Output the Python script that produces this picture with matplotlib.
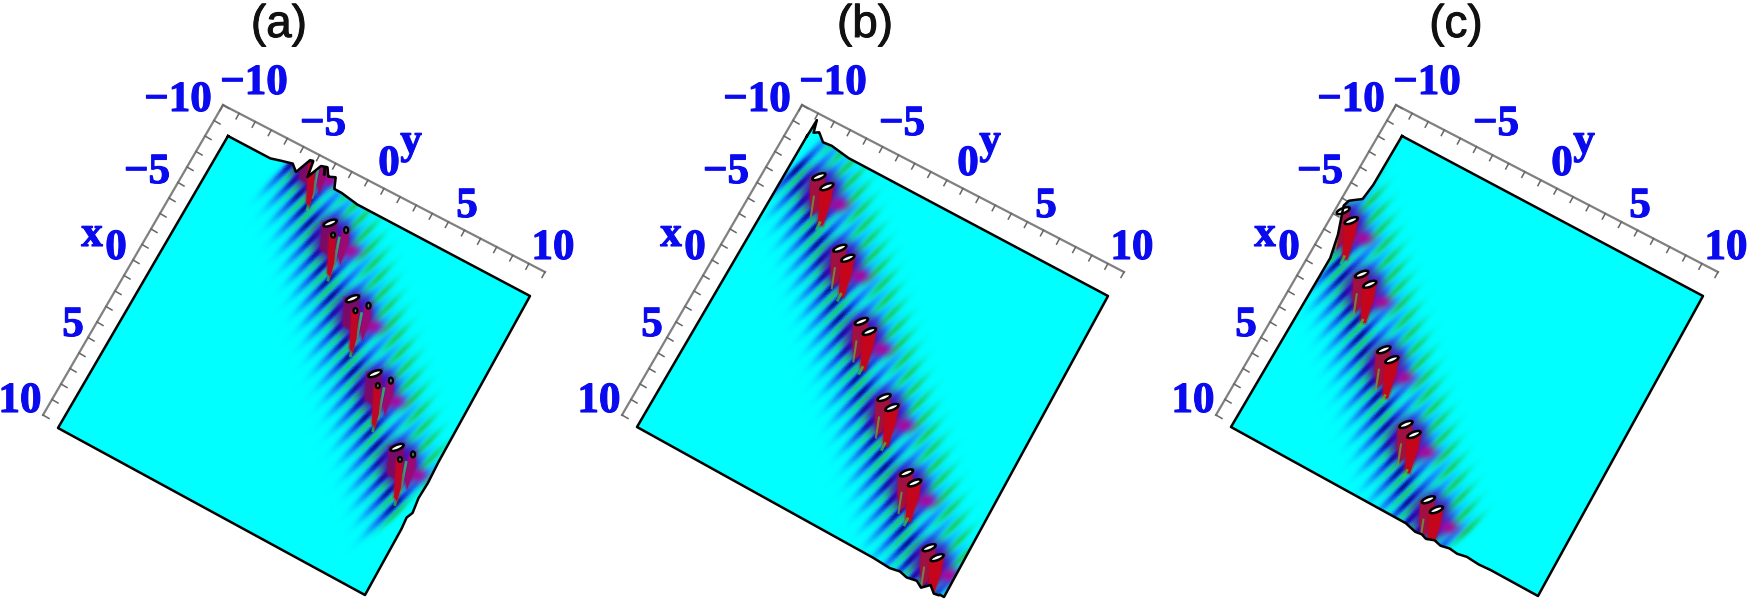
import numpy as np
import matplotlib
matplotlib.use('Agg')
import matplotlib.pyplot as plt
from matplotlib.patches import Polygon, Ellipse
import matplotlib.patheffects as pe

# panels
titles = ['(a)', '(b)', '(c)']
title_cx = [279, 865, 1456]
panel_dx = [0, 579, 1173]
band_d = [6.0, 0.0, -6.3]      # y - x of the soliton band

# surface corners in px, panel a: (x,y) = (-10,-10), (-10,10), (10,10), (10,-10)
corner_top = [[228, 136], [807, 136], [1402, 136]]
corner_right = [[530, 296], [1108, 296], [1703, 296]]
corner_bottom = [[365, 595], [944, 597], [1538, 596]]
corner_left = [[58, 428], [637, 427], [1231, 427]]

# peak clusters along the band, (x+y)/2
peaks_a = [-8.4, -5.28, -1.97, 1.3, 4.5]
peaks_b = [-8.2, -5.05, -1.85, 1.45, 4.7, 7.9]
peaks_c = [-7.6, -4.8, -1.5, 1.75, 5.0]

# ripples along the band
ripples_a = [-8.6, -7.95, -7.3, -6.65, -6.0, -5.35, -4.7, -4.05, -3.4, -2.75, -2.1, -1.45, -0.8, -0.15,
             0.5, 1.15, 1.8, 2.45, 3.1, 3.75, 4.4, 5.05, 5.7, 6.35]
ripples_b = [-9.2, -8.55, -7.9, -7.25, -6.6, -5.95, -5.3, -4.65, -4.0, -3.35, -2.7, -2.05, -1.4, -0.75,
             -0.1, 0.55, 1.2, 1.85, 2.5, 3.15, 3.8, 4.45, 5.1, 5.75, 6.4, 7.05, 7.7, 8.35, 9.0, 9.65]
ripples_c = [-8.6, -7.95, -7.3, -6.65, -6.0, -5.35, -4.7, -4.05, -3.4, -2.75, -2.1, -1.45, -0.8, -0.15,
             0.5, 1.15, 1.8, 2.45, 3.1, 3.75, 4.4, 5.05, 5.7, 6.35, 7.0]

# outline bumps, px outwards from the flat edge
a_top_pos = [-7.2, -6.8, -5.9, -5.5, -5.1, -4.9, -4.77, -4.37, -4.0, -3.7, -3.3, -3.05, -2.6, -1.46]
a_top_h = [0, 2, 6, 0, 17, 18, 1, 17, 19, 11, 14, 3, 3, 0]
a_right_pos = [1.0, 2.4, 3.5, 4.45, 4.85, 5.5]
a_right_h = [0, 1, 0, 2, -1, 0]
b_top_pos = [-9.99, -9.93, -9.75, -9.47, -9.0, -8.47, -7.27]
b_top_h = [0, 19, 6, 9, 2, 3, 0]
b_bottom_pos = [5.5, 6.5, 7.1, 7.6, 8.2, 8.6, 9.0, 9.4, 9.7]
b_bottom_h = [0, 1, -1, 1, -1, 3, -4, 2, 1]
c_left_pos = [-6.6, -5.6, -5.1, -4.7, -4.0, -3.0, -1.6]
c_left_h = [0, 2, 13, 15, 11, 5, 0]
c_bottom_pos = [1.4, 2.1, 2.5, 2.83, 3.3, 3.75, 4.27, 4.8, 5.37, 6.2, 7.0]
c_bottom_h = [0, 3, 2, 4, 1, 3, 1, 2, 0, 1, 0]

# axis lines and labels, panel a px
axis_corner = [223, 105]
axis_x_end = [43, 415]
axis_y_end = [545, 272]
ticks = list(range(-10, 11))
x_labels = ['\u221210', '\u22125', '0', '5', '10']
x_label_px = [[178, 101], [147, 173], [116, 249], [73, 326], [20, 402]]
y_labels = ['\u221210', '\u22125', '0', '5', '10']
y_label_px = [[254, 84], [323, 125], [389, 165], [467, 207], [553, 249]]

BLUE = '#0a0aee'
CYAN = np.array([0.0, 1.0, 1.0])
NAVY = np.array([0.02, 0.05, 0.5])
ROYAL = np.array([0.05, 0.25, 0.9])
SKY = np.array([0.1, 0.6, 1.0])
GREEN = np.array([0.1, 0.78, 0.35])
PURPLE = np.array([0.3, 0.0, 0.7])
MAGENTA = np.array([0.7, 0.0, 0.6])

fig = plt.figure(figsize=(17.5, 6.01), dpi=100)
ax = fig.add_axes([0, 0, 1, 1])
ax.set_xlim(0, 1750)
ax.set_ylim(601, 0)
ax.axis('off')


def to_px(x, y, i):
    s = (np.asarray(x, float) + 10) / 20
    t = (np.asarray(y, float) + 10) / 20
    p0, p1, p2, p3 = [np.array(c[i], float) for c in (corner_top, corner_right, corner_bottom, corner_left)]
    px = (1-s)*(1-t)*p0[0] + (1-s)*t*p1[0] + s*t*p2[0] + s*(1-t)*p3[0]
    py = (1-s)*(1-t)*p0[1] + (1-s)*t*p1[1] + s*t*p2[1] + s*(1-t)*p3[1]
    return px, py


def blend(img, col, w):
    w = np.clip(w, 0, 1)[..., None]
    return img * (1 - w) + col * w


def surface(i, ripples, peaks):
    n = 620
    g = np.linspace(-11.5, 11.5, n + 1)
    xe, ye = np.meshgrid(g, g, indexing='ij')
    X, Y = to_px(xe, ye, i)
    c = 0.5 * (g[:-1] + g[1:])
    xc, yc = np.meshgrid(c, c, indexing='ij')
    PX, PY = to_px(xc, yc, i)
    img = np.ones((n, n, 3)) * CYAN
    d = band_d[i]
    ex, ey = 0.707, -0.707
    nx, ny = 0.707, 0.707
    coords = []
    for u in ripples:
        cx, cy = to_px(u - d/2, u + d/2, i)
        a = (PX - cx)*ex + (PY - cy)*ey
        b = (PX - cx)*nx + (PY - cy)*ny
        coords.append((a, b))
    # layers go over all ripples so a wide one can't wipe a neighbour
    for a, b in coords:
        img = blend(img, SKY, 0.85*np.exp(-(b/4.6)**2)*np.exp(-((a+10)/48)**4))
    for a, b in coords:
        b2 = b - 6.7
        img = blend(img, GREEN, 0.85*np.exp(-(b2/3.0)**2)*np.exp(-((a+26)/20)**2))
        img = blend(img, GREEN, 0.85*np.exp(-(b2/3.3)**2)*np.exp(-((a-30)/19)**2))
    for a, b in coords:
        img = blend(img, ROYAL, 0.95*np.exp(-(b/3.4)**2)*np.exp(-((a+22)/30)**2))
        img = blend(img, NAVY, 0.85*np.exp(-(b/2.4)**2)*np.exp(-((a+22)/13)**2))
    for u in peaks:
        cx, cy = to_px(u - d/2, u + d/2, i)
        r2 = ((PX - cx - 3)/21)**2 + ((PY - cy - 16)/25)**2
        img = blend(img, PURPLE, 0.9*np.exp(-r2**2))
        r2 = ((PX - cx - 20)/11)**2 + ((PY - cy - 28)/7)**2
        img = blend(img, MAGENTA, 0.9*np.exp(-r2))
    return X, Y, img


def outline(i, bumps):
    # four edges, each walked clockwise from the top corner
    pts = []
    edges = [('top', lambda p: (-10*np.ones_like(p), p), 1),
             ('right', lambda p: (p, 10*np.ones_like(p)), 1),
             ('bottom', lambda p: (10*np.ones_like(p), p), -1),
             ('left', lambda p: (p, -10*np.ones_like(p)), -1)]
    for name, f, sgn in edges:
        p = np.linspace(-10, 10, 800)
        if sgn < 0:
            p = p[::-1]
        ex, ey = f(p)
        px, py = to_px(ex, ey, i)
        dx, dy = np.gradient(px), np.gradient(py)
        ln = np.hypot(dx, dy)
        # outward normal for a clockwise walk on screen
        nx, ny = dy/ln, -dx/ln
        h = np.zeros_like(p)
        if name in bumps:
            h = np.interp(p, bumps[name][0], bumps[name][1], left=0, right=0)
        pts.append(np.column_stack([px + nx*h, py + ny*h]))
    return np.vstack(pts)


def column(px, py, poly, col, z):
    ax.add_patch(Polygon([(px + a, py + b) for a, b in poly], fc=col, ec=col, lw=2.5, alpha=0.3, zorder=z))
    ax.add_patch(Polygon([(px + a, py + b) for a, b in poly], fc=col, lw=0, zorder=z))


def cluster_a(px, py, z=5, top=True):
    big = [(-8, -1), (7, -4), (6, 14), (-3, 31), (-10, 26)]
    right = [(12, 8), (19, 5), (18, 20), (10, 42), (8, 32)]
    front = [(-1, 12), (6, 11), (4, 40), (0, 54), (-3, 50)]
    column(px, py, big, '#7a0a6a', z)
    column(px, py, right, '#9a0a70', z)
    ax.plot([px + 9, px + 3], [py + 15, py + 45], color='#30d060', lw=2, alpha=0.75, zorder=z)
    column(px, py, front, '#c00525', z + 0.1)
    ax.plot([px, px - 2], [py + 50, py + 57], color='#30d040', lw=2, alpha=0.7, zorder=z)
    if top:
        ax.add_patch(Ellipse((px, py), 14, 5, angle=-22, fc='white', ec='black', lw=1.8, zorder=z + 0.2))
        ax.add_patch(Ellipse((px + 3, py + 12), 4, 5, fc='#777777', ec='black', lw=1.6, zorder=z + 0.2))
        ax.add_patch(Ellipse((px + 16, py + 7), 4, 6, fc='#777777', ec='black', lw=1.6, zorder=z + 0.2))
    else:
        ax.plot([px + 3, px + 3], [py, py + 12], color='black', lw=2, zorder=z + 0.2)
        ax.plot([px + 16, px + 15], [py + 7, py + 22], color='black', lw=2, zorder=z + 0.2)


def cluster_b(px, py, z=5):
    back = [(-8, 1), (6, -3), (6, 14), (-2, 34), (-7, 38), (-9, 20)]
    front = [(1, 13), (15, 7), (12, 24), (4, 49), (-1, 48)]
    column(px, py, back, '#a01040', z)
    column(px, py, front, '#c4051c', z + 0.1)
    ax.plot([px - 5, px - 8], [py + 20, py + 40], color='#60b040', lw=1.5, alpha=0.7, zorder=z + 0.1)
    ax.plot([px + 1, px - 2], [py + 46, py + 52], color='#30d040', lw=2, alpha=0.7, zorder=z + 0.1)
    ax.add_patch(Ellipse((px, py), 14, 5, angle=-22, fc='white', ec='black', lw=1.8, zorder=z + 0.2))
    ax.add_patch(Ellipse((px + 8, py + 10), 14, 5, angle=-22, fc='white', ec='black', lw=1.8, zorder=z + 0.2))


peak_lists = [peaks_a, peaks_b, peaks_c]
ripple_lists = [ripples_a, ripples_b, ripples_c]
bump_lists = [
    {'top': (a_top_pos, a_top_h), 'right': (a_right_pos, a_right_h)},
    {'top': (b_top_pos, b_top_h), 'bottom': (b_bottom_pos, b_bottom_h)},
    {'left': (c_left_pos, c_left_h), 'bottom': (c_bottom_pos, c_bottom_h)},
]
heavy = [pe.withStroke(linewidth=0.8, foreground=BLUE)]

for i in range(3):
    dx = panel_dx[i]
    ax.text(title_cx[i], 25, titles[i], fontsize=33, family='Liberation Sans', ha='center', va='center',
            color='#111111', path_effects=[pe.withStroke(linewidth=0.7, foreground='#111111')])

    # the surface
    X, Y, img = surface(i, ripple_lists[i], peak_lists[i])
    m = ax.pcolormesh(X, Y, img, shading='flat', antialiased=False, linewidth=0, zorder=2)
    border = outline(i, bump_lists[i])
    clip = Polygon(border, closed=True, transform=ax.transData, fill=False, lw=0)
    ax.add_patch(clip)
    m.set_clip_path(clip)

    # peaks, cut at the surface outline
    d = band_d[i]
    n_patches, n_lines = len(ax.patches), len(ax.lines)
    for j, u in enumerate(peak_lists[i]):
        px, py = to_px(u - d/2, u + d/2, i)
        if i == 0:
            cluster_a(float(px), float(py), top=(j > 0))
        else:
            cluster_b(float(px), float(py))
    for art in list(ax.patches)[n_patches:] + list(ax.lines)[n_lines:]:
        if not isinstance(art, Ellipse):
            art.set_clip_path(clip)

    ax.plot(np.append(border[:, 0], border[0, 0]), np.append(border[:, 1], border[0, 1]),
            color='black', lw=1.8, zorder=8)

    # axes with ticks
    c0 = np.array(axis_corner, float) + [dx, 0]
    ex = np.array(axis_x_end, float) + [dx, 0]
    ey = np.array(axis_y_end, float) + [dx, 0]
    ax.plot([c0[0], ex[0]], [c0[1], ex[1]], color='#808080', lw=1.6, zorder=3)
    ax.plot([c0[0], ey[0]], [c0[1], ey[1]], color='#808080', lw=1.6, zorder=3)
    for t in ticks:
        f = (t + 10) / 20
        p = c0 + f*(ex - c0)
        ax.plot([p[0], p[0] + 6], [p[1], p[1] + 3.5], color='#666666', lw=1.1, zorder=3)
        p = c0 + f*(ey - c0)
        ax.plot([p[0], p[0] - 3], [p[1], p[1] + 5.5], color='#666666', lw=1.1, zorder=3)

    for lab, pos in zip(x_labels, x_label_px):
        ax.text(pos[0] + dx, pos[1], lab, fontsize=31, family='Liberation Serif', weight='bold',
                color=BLUE, ha='center', va='center', path_effects=heavy)
    for lab, pos in zip(y_labels, y_label_px):
        ax.text(pos[0] + dx, pos[1], lab, fontsize=31, family='Liberation Serif', weight='bold',
                color=BLUE, ha='center', va='center', path_effects=heavy)
    ax.text(92 + dx, 236, 'x', fontsize=31, family='Liberation Serif', weight='bold', color=BLUE,
            ha='center', va='center', path_effects=heavy)
    ax.text(411 + dx, 143, 'y', fontsize=31, family='Liberation Serif', weight='bold', color=BLUE,
            ha='center', va='center', path_effects=heavy)

fig.savefig('out.png', dpi=100)
